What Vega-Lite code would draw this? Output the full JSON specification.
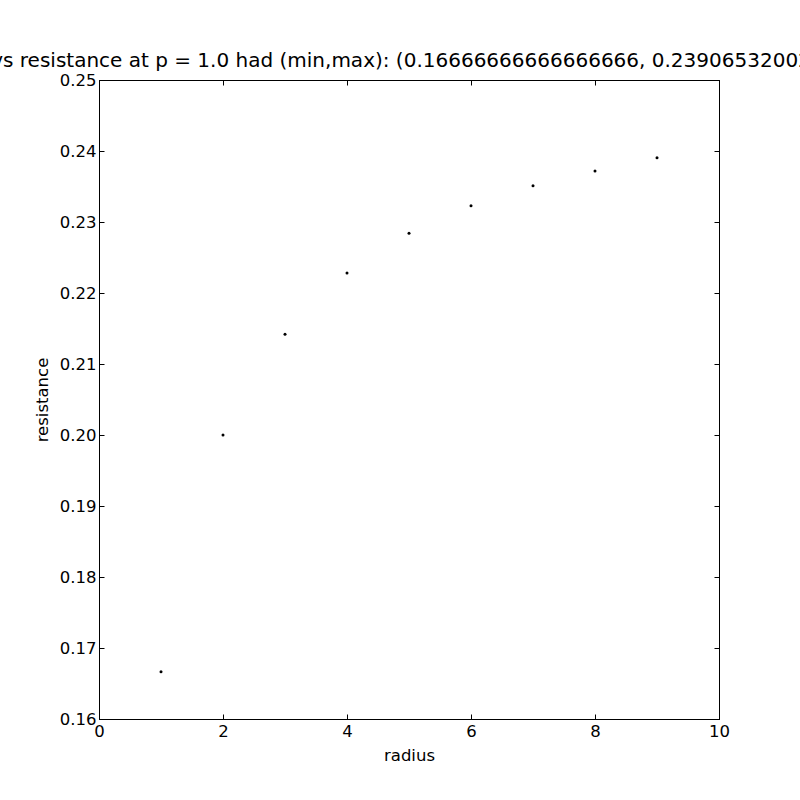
{
  "$schema": "https://vega.github.io/schema/vega-lite/v6.json",
  "width": 620,
  "height": 639,
  "autosize": {"type": "none"},
  "padding": {"left": 99, "top": 80, "right": 81, "bottom": 81},
  "background": "white",
  "title": {
    "text": "radius vs resistance at p = 1.0 had (min,max): (0.16666666666666666, 0.23906532002313514)",
    "font": "DejaVu Sans",
    "fontSize": 20,
    "fontWeight": "normal",
    "color": "black",
    "anchor": "middle",
    "offset": 1
  },
  "config": {
    "view": {"stroke": "black", "strokeWidth": 1},
    "axis": {
      "labelFont": "DejaVu Sans",
      "titleFont": "DejaVu Sans",
      "labelFontSize": 16.5,
      "titleFontSize": 16.5,
      "titleFontWeight": "normal",
      "labelColor": "black",
      "titleColor": "black",
      "domainColor": "black",
      "tickColor": "black",
      "grid": false,
      "labelFlush": false,
      "tickSize": -5
    }
  },
  "data": {
    "values": [
      {"radius": 1, "resistance": 0.16666666666666666},
      {"radius": 2, "resistance": 0.2},
      {"radius": 3, "resistance": 0.2142},
      {"radius": 4, "resistance": 0.2228},
      {"radius": 5, "resistance": 0.2284},
      {"radius": 6, "resistance": 0.2323},
      {"radius": 7, "resistance": 0.2351},
      {"radius": 8, "resistance": 0.2372},
      {"radius": 9, "resistance": 0.23906532}
    ]
  },
  "layer": [
    {
      "mark": {"type": "point", "filled": true, "color": "black", "opacity": 1, "size": 9},
      "encoding": {
        "x": {"field": "radius", "type": "quantitative", "scale": {"domain": [0, 10], "nice": false, "zero": false},
              "axis": {"title": "radius", "values": [0, 2, 4, 6, 8, 10], "labelPadding": 9, "titlePadding": 8, "orient": "bottom"}},
        "y": {"field": "resistance", "type": "quantitative", "scale": {"domain": [0.16, 0.25], "nice": false, "zero": false},
              "axis": {"title": "resistance", "values": [0.16, 0.17, 0.18, 0.19, 0.2, 0.21, 0.22, 0.23, 0.24, 0.25], "format": ".2f", "labelPadding": 8, "titlePadding": 9, "orient": "left"}}
      }
    },
    {
      "mark": {"type": "point", "filled": true, "opacity": 0, "size": 9},
      "encoding": {
        "x": {"field": "radius", "type": "quantitative", "scale": {"domain": [0, 10], "nice": false, "zero": false},
              "axis": {"title": null, "orient": "top", "labels": false, "values": [0, 2, 4, 6, 8, 10]}},
        "y": {"field": "resistance", "type": "quantitative", "scale": {"domain": [0.16, 0.25], "nice": false, "zero": false},
              "axis": {"title": null, "orient": "right", "labels": false, "values": [0.16, 0.17, 0.18, 0.19, 0.2, 0.21, 0.22, 0.23, 0.24, 0.25]}}
      }
    }
  ],
  "resolve": {"axis": {"x": "independent", "y": "independent"}}
}
